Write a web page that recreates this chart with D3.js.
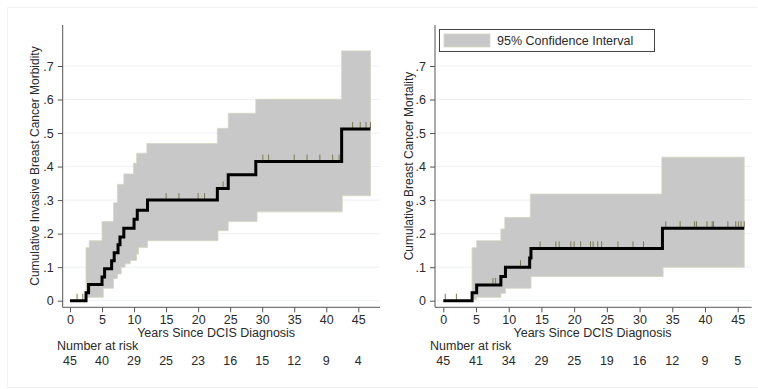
<!DOCTYPE html>
<html>
<head>
<meta charset="utf-8">
<script src="https://cdn.jsdelivr.net/npm/d3@7"></script>
<style>
  body { margin: 0; background: #fff; }
  text { font-family: "Liberation Sans", Arial, sans-serif; }
</style>
</head>
<body>
<svg id="chart" width="758" height="389"></svg>
<script>
// ---- data ----
const xTicks = [0, 5, 10, 15, 20, 25, 30, 35, 40, 45]
const yTicks = [0, 0.1, 0.2, 0.3, 0.4, 0.5, 0.6, 0.7]

// left: invasive breast cancer morbidity
const morbT = [0, 2.5, 2.9, 5.0, 5.4, 6.5, 6.9, 7.5, 7.8, 8.4, 10.0, 10.5, 12.1, 23.0, 24.7, 29.0, 42.4, 46.9]
const morbEst = [0, 0.024, 0.048, 0.071, 0.095, 0.119, 0.143, 0.167, 0.19, 0.216, 0.243, 0.27, 0.30, 0.335, 0.376, 0.415, 0.512, 0.512]
const morbLoT = [2.5, 5.2, 6.8, 7.4, 8.0, 8.6, 9.4, 10.4, 10.7, 12.1, 23.1, 24.7, 29.2, 42.5, 46.9]
const morbLo = [0.01, 0.037, 0.066, 0.08, 0.10, 0.11, 0.12, 0.139, 0.159, 0.179, 0.209, 0.236, 0.265, 0.313, 0.313]
const morbHiT = [2.5, 3.0, 5.0, 6.8, 7.4, 8.4, 9.9, 10.4, 12.0, 23.0, 24.7, 29.0, 42.4, 46.9]
const morbHi = [0.158, 0.179, 0.236, 0.292, 0.347, 0.378, 0.41, 0.44, 0.469, 0.514, 0.559, 0.601, 0.745, 0.745]
const morbCensor = [1.1, 2.0, 15, 17, 20, 21, 23.9, 30.1, 31, 35, 37, 39, 41, 42, 44.1, 45.3, 46.2, 46.9]
const morbRisk = [45, 40, 29, 25, 23, 16, 15, 12, 9, 4]

// right: breast cancer mortality
const mortT = [0, 4.4, 5.1, 8.8, 9.5, 13.2, 13.4, 33.5, 46.0]
const mortEst = [0, 0.024, 0.047, 0.072, 0.10, 0.127, 0.156, 0.216, 0.216]
const mortLoT = [4.4, 5.1, 8.8, 9.5, 13.4, 33.6, 46.0]
const mortLo = [0.004, 0.01, 0.022, 0.037, 0.072, 0.10, 0.10]
const mortHiT = [4.4, 5.1, 8.8, 9.4, 13.3, 33.4, 46.0]
const mortHi = [0.158, 0.179, 0.214, 0.248, 0.318, 0.428, 0.428]
const mortCensor = [0.3, 2.0, 7.6, 8.0, 11.8, 14.8, 17.2, 17.7, 19.5, 20.0, 21.0, 22.5, 22.9, 23.6, 24.2, 26.7, 29.0, 30.6,
  34.0, 36.2, 38.4, 38.7, 40.3, 41.1, 41.3, 43.5, 44.7, 45.1, 45.5, 46.0]
const mortRisk = [45, 41, 34, 29, 25, 19, 16, 12, 9, 5]

const svg = d3.select('#chart')

// very faint frame lines of the original figure
svg.append('path').attr('d', 'M7.5,387.5V7.5H757.5M7.5,387.5H757.5')
  .attr('fill', 'none').attr('stroke', '#f1f1f1')

// value of a step function at time t
function stepAt (ts, vs, t) {
  let v = vs[0]
  for (let i = 0; i < ts.length; i++) { if (ts[i] <= t) v = vs[i] }
  return v
}

const fmtY = d => d === 0 ? '0' : d3.format('.1f')(d).replace(/^0/, '')

function panel (o) {
  const x = d3.scaleLinear().domain([0, 45]).range([o.x0, o.x45])
  const y = d3.scaleLinear().domain([0, 0.7]).range([300.7, 66])
  const g = svg.append('g')

  // gridlines
  g.selectAll('.grid').data(yTicks).enter().append('line')
    .attr('x1', o.axisX).attr('x2', o.right)
    .attr('y1', d => y(d)).attr('y2', d => y(d))
    .attr('stroke', '#edf1f3').attr('stroke-width', 1)

  // confidence band
  const times = Array.from(new Set(o.loT.concat(o.hiT))).sort((a, b) => a - b)
  const band = times.map(t => ({ t: t, lo: stepAt(o.loT, o.lo, t), hi: stepAt(o.hiT, o.hi, t) }))
  g.append('path').datum(band)
    .attr('d', d3.area().curve(d3.curveStepAfter)
      .x(d => x(d.t)).y0(d => y(d.lo)).y1(d => y(d.hi)))
    .attr('fill', '#c8c8c8').attr('stroke', '#d6d6c4').attr('stroke-width', 0.8)

  // censor marks
  g.selectAll('.cens').data(o.censor).enter().append('line')
    .attr('x1', d => x(d)).attr('x2', d => x(d))
    .attr('y1', d => y(stepAt(o.t, o.est, d)) - 1)
    .attr('y2', d => y(stepAt(o.t, o.est, d)) - 7)
    .attr('stroke', '#7b7a55').attr('stroke-width', 1)

  // KM estimate
  const pts = o.t.map((t, i) => [t, o.est[i]])
  g.append('path').datum(pts)
    .attr('d', d3.line().curve(d3.curveStepAfter).x(d => x(d[0])).y(d => y(d[1])))
    .attr('fill', 'none').attr('stroke', '#000').attr('stroke-width', 3)

  // axes
  const yAxis = d3.axisLeft(y).tickValues(yTicks).tickFormat(fmtY).tickSize(5).tickPadding(4).tickSizeOuter(0)
  const ya = g.append('g').attr('transform', `translate(${o.axisX},0)`).call(yAxis)
  ya.select('.domain').attr('d', `M0,25V307.3`)
  const xAxis = d3.axisBottom(x).tickValues(xTicks).tickSize(5).tickPadding(3).tickSizeOuter(0)
  const xa = g.append('g').attr('transform', 'translate(0,307.3)').call(xAxis)
  xa.select('.domain').attr('d', `M${o.axisX},0H${o.right}`)
  g.selectAll('.domain').attr('stroke', '#555')
  g.selectAll('.tick line').attr('stroke', '#555')
  g.selectAll('.tick text').attr('font-size', 12.5).attr('fill', '#2a2a2a')
    .attr('font-family', '"Liberation Sans", Arial, sans-serif')

  // titles
  g.append('text').attr('x', (o.x0 + o.x45) / 2 + 2).attr('y', 337)
    .attr('text-anchor', 'middle').attr('font-size', 12.5).attr('fill', '#2a2a2a')
    .text('Years Since DCIS Diagnosis')
  g.append('text').attr('transform', `translate(${o.labelX},166) rotate(-90)`)
    .attr('text-anchor', 'middle').attr('font-size', 12).attr('fill', '#2a2a2a')
    .text(o.ylabel)

  // number at risk
  g.append('text').attr('x', o.riskX).attr('y', 350)
    .attr('font-size', 12.5).attr('fill', '#2a2a2a').text('Number at risk')
  g.selectAll('.risk').data(o.risk).enter().append('text')
    .attr('x', (d, i) => x(xTicks[i])).attr('y', 365)
    .attr('text-anchor', 'middle').attr('font-size', 12.5).attr('fill', '#2a2a2a')
    .text(d => d)
  return g
}

panel({
  x0: 70, x45: 358.3, axisX: 62.7, right: 380, labelX: 39, riskX: 57,
  t: morbT, est: morbEst, loT: morbLoT, lo: morbLo, hiT: morbHiT, hi: morbHi,
  censor: morbCensor, risk: morbRisk,
  ylabel: 'Cumulative Invasive Breast Cancer Morbidity'
})
panel({
  x0: 443.3, x45: 737.7, axisX: 435, right: 751.7, labelX: 413, riskX: 430,
  t: mortT, est: mortEst, loT: mortLoT, lo: mortLo, hiT: mortHiT, hi: mortHi,
  censor: mortCensor, risk: mortRisk,
  ylabel: 'Cumulative Breast Cancer Mortality'
})

// legend
const lg = svg.append('g')
lg.append('rect').attr('x', 439.5).attr('y', 29.5).attr('width', 215).attr('height', 22)
  .attr('fill', '#fff').attr('stroke', '#444').attr('stroke-width', 1)
lg.append('rect').attr('x', 444).attr('y', 34).attr('width', 46).attr('height', 13)
  .attr('fill', '#c8c8c8').attr('stroke', '#d6d6c4').attr('stroke-width', 0.8)
lg.append('text').attr('x', 497).attr('y', 45).attr('font-size', 12.5).attr('fill', '#2a2a2a')
  .text('95% Confidence Interval')
</script>
</body>
</html>
